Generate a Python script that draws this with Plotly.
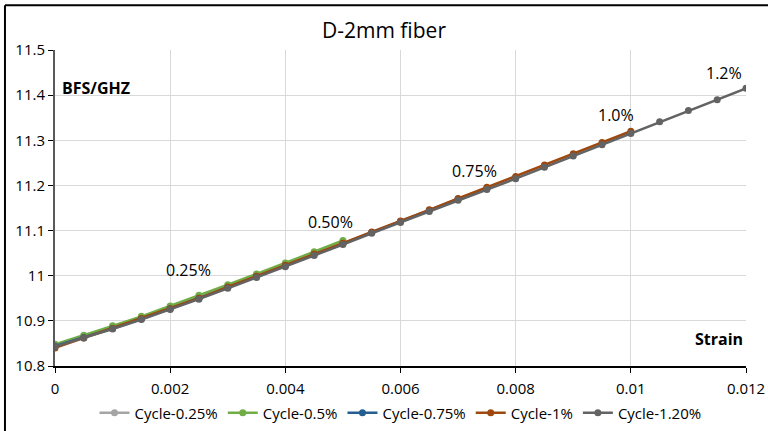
import plotly.graph_objects as go

strain = [0, 0.0005, 0.001, 0.0015, 0.002, 0.0025, 0.003, 0.0035, 0.004, 0.0045,
          0.005, 0.0055, 0.006, 0.0065, 0.007, 0.0075, 0.008, 0.0085, 0.009, 0.0095,
          0.01, 0.0105, 0.011, 0.0115, 0.012]

cycle_025 = [10.846, 10.866, 10.887, 10.908, 10.931, 10.955]
cycle_05 = [10.848, 10.868, 10.889, 10.910, 10.933, 10.957, 10.980, 11.004, 11.028, 11.053, 11.078]
cycle_075 = [10.844, 10.863, 10.883, 10.904, 10.927, 10.950, 10.974, 10.998, 11.022, 11.047,
             11.071, 11.096, 11.120, 11.145, 11.170, 11.194]
cycle_1 = [10.840, 10.862, 10.883, 10.905, 10.927, 10.950, 10.975, 10.999, 11.023, 11.048,
           11.072, 11.097, 11.121, 11.146, 11.171, 11.196, 11.220, 11.245, 11.270, 11.295, 11.320]
cycle_12 = [10.843, 10.862, 10.882, 10.903, 10.925, 10.948, 10.972, 10.996, 11.020, 11.045,
            11.069, 11.094, 11.118, 11.142, 11.167, 11.191, 11.215, 11.240, 11.265, 11.290,
            11.315, 11.341, 11.366, 11.390, 11.415]

series_names = ["Cycle-0.25%", "Cycle-0.5%", "Cycle-0.75%", "Cycle-1%", "Cycle-1.20%"]
series_values = [cycle_025, cycle_05, cycle_075, cycle_1, cycle_12]
series_colors = ["#a5a5a5", "#70ad47", "#255e91", "#9e480e", "#636363"]

label_texts = ["0.25%", "0.50%", "0.75%", "1.0%", "1.2%"]
label_x = [0.00231, 0.00478, 0.00729, 0.00974, 0.01162]
label_y = [11.013, 11.119, 11.232, 11.356, 11.449]

FONT = "Open Sans"

fig = go.Figure()
for name, vals, col in zip(series_names, series_values, series_colors):
    fig.add_trace(go.Scatter(
        x=strain[:len(vals)], y=vals, name=name, mode="lines+markers",
        line=dict(color=col, width=2.5),
        marker=dict(color=col, size=7),
    ))

for t, x, y in zip(label_texts, label_x, label_y):
    fig.add_annotation(x=x, y=y, text=t, showarrow=False,
                       font=dict(family=FONT, size=16, color="#000000"))

fig.add_annotation(xref="paper", yref="paper", x=0.007, y=0.92, xanchor="left",
                   text="<b>BFS/GHZ</b>", showarrow=False,
                   font=dict(family=FONT, size=16, color="#000000"))
fig.add_annotation(xref="paper", yref="paper", x=0.999, y=0.045, xanchor="right",
                   text="<b>Strain</b>", showarrow=False,
                   font=dict(family=FONT, size=16, color="#000000"))

# outer frame lines (left and top)
fig.add_shape(type="line", xref="paper", yref="paper", x0=-0.0724, x1=1.04, y0=1.142, y1=1.142,
              line=dict(color="#000000", width=2))
fig.add_shape(type="line", xref="paper", yref="paper", x0=-0.0724, x1=-0.0724, y0=-0.3, y1=1.142,
              line=dict(color="#000000", width=2))

fig.update_layout(
    width=768, height=431,
    margin=dict(l=55, r=22, t=50, b=65, autoexpand=False),
    paper_bgcolor="white", plot_bgcolor="white",
    title=dict(text="D-2mm fiber", x=0.5, xanchor="center", y=0.93, yanchor="middle",
               font=dict(family=FONT, size=21, color="#000000")),
    font=dict(family=FONT, size=15, color="#000000"),
    showlegend=True,
    legend=dict(orientation="h", x=0.5, xanchor="center", yref="container", y=0.042, yanchor="middle",
                bgcolor="rgba(0,0,0,0)",
                font=dict(family=FONT, size=15, color="#000000"),
                itemwidth=30, tracegroupgap=0),
)
fig.update_xaxes(range=[0, 0.012], dtick=0.002, tickformat="~g",
                 showgrid=True, gridcolor="#d9d9d9", gridwidth=1,
                 showline=True, linecolor="#000000", linewidth=1.5,
                 ticks="outside", ticklen=5, tickcolor="#000000",
                 ticklabelstandoff=3,
                 zeroline=False, tickfont=dict(family=FONT, size=15))
fig.update_yaxes(range=[10.8, 11.5], dtick=0.1, tickformat="~g",
                 showgrid=True, gridcolor="#d9d9d9", gridwidth=1,
                 showline=True, linecolor="#595959", linewidth=2,
                 ticks="outside", ticklen=5, tickcolor="#000000",
                 zeroline=False, tickfont=dict(family=FONT, size=15))

fig.write_html("out.html")
